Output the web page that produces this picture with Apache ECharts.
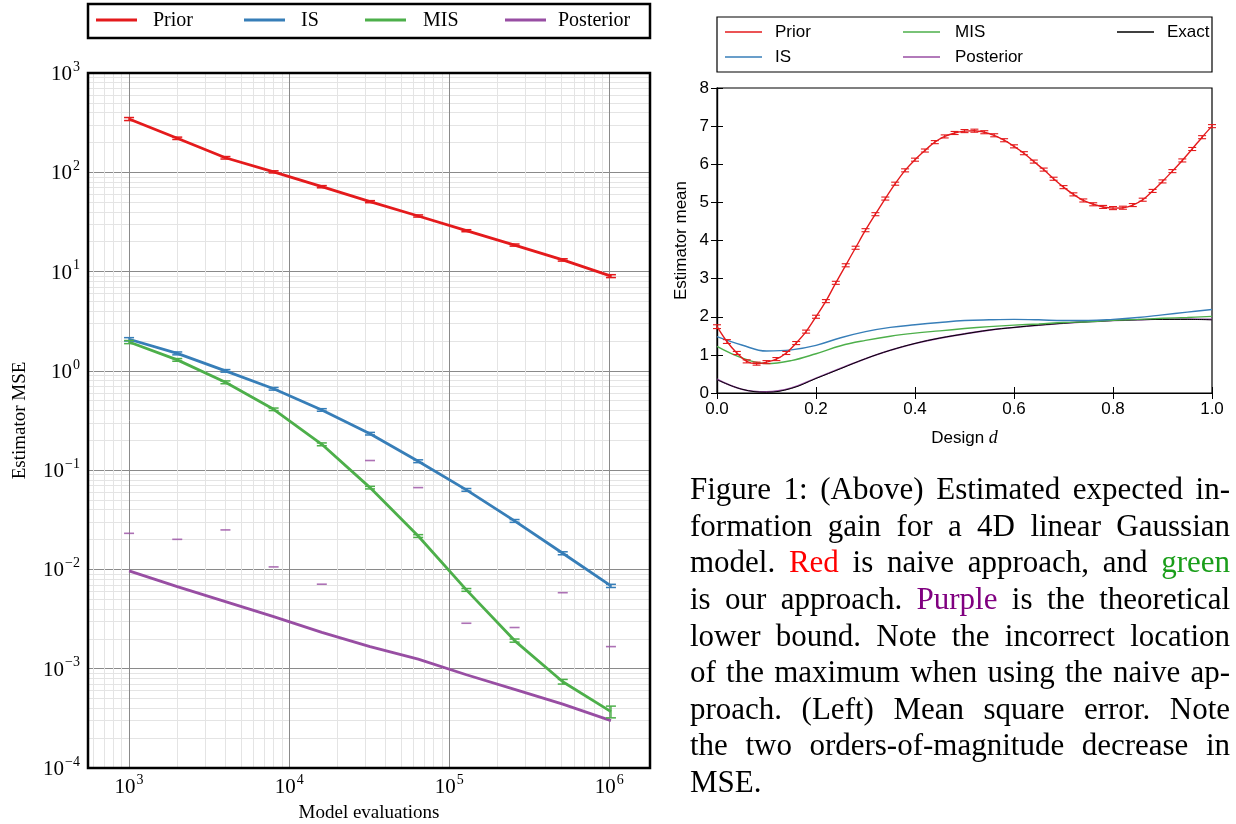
<!DOCTYPE html>
<html>
<head>
<meta charset="utf-8">
<script src="https://cdn.jsdelivr.net/npm/echarts@6/dist/echarts.min.js"></script>
<style>
html,body{margin:0;padding:0;background:#fff;}
#chart{width:1236px;height:824px;}
</style>
</head>
<body>
<div id="chart"></div>
<script>
// ---------------- DATA: left panel (MSE vs model evaluations) ----------------
const mseEvals = [1000, 2000, 4000, 8000, 16000, 32000, 64000, 128000, 256000, 512000, 1024000];
const msePrior = [344, 220, 140, 101, 71.6, 50.6, 36.3, 25.8, 18.5, 13.1, 9.0];
const msePriorErr = [12, 6, 4, 2.5, 1.8, 1.2, 0.9, 0.6, 0.45, 0.35, 0.3];
const mseIS = [2.08, 1.50, 1.00, 0.66, 0.404, 0.233, 0.123, 0.0633, 0.0308, 0.01455, 0.00683];
const mseISErr = [0.08, 0.05, 0.03, 0.02, 0.012, 0.007, 0.004, 0.002, 0.001, 0.0005, 0.00025];
const mseMIS = [1.95, 1.29, 0.767, 0.41, 0.182, 0.0667, 0.0217, 0.00622, 0.00192, 0.00074, 0.00037];
const mseMISErr = [0.07, 0.04, 0.025, 0.012, 0.006, 0.002, 0.0007, 0.0002, 0.00007, 0.00004, 0.00005];
const msePosterior = [0.00966, 0.00671, 0.00474, 0.00335, 0.00232, 0.00167, 0.00125, 0.00087, 0.00062, 0.00044, 0.0003];
const msePosteriorCaps = [0.0231, 0.0201, 0.025, 0.0106, 0.0071, 0.125, 0.0667, 0.00287, 0.0026, 0.00583, 0.00167];

// ---------------- DATA: right panel (estimator mean vs design d) ----------------
const designFine = [0.00,0.02,0.04,0.06,0.08,0.10,0.12,0.14,0.16,0.18,0.20,0.22,0.24,0.26,0.28,0.30,0.32,0.34,0.36,0.38,0.40,0.42,0.44,0.46,0.48,0.50,0.52,0.54,0.56,0.58,0.60,0.62,0.64,0.66,0.68,0.70,0.72,0.74,0.76,0.78,0.80,0.82,0.84,0.86,0.88,0.90,0.92,0.94,0.96,0.98,1.00];
const meanPrior = [1.74,1.35,1.05,0.83,0.77,0.81,0.89,1.05,1.31,1.61,2.00,2.41,2.89,3.35,3.81,4.27,4.69,5.10,5.49,5.84,6.12,6.36,6.58,6.73,6.82,6.87,6.88,6.84,6.76,6.63,6.47,6.29,6.07,5.86,5.62,5.40,5.21,5.05,4.95,4.88,4.85,4.86,4.93,5.07,5.30,5.55,5.82,6.10,6.40,6.71,7.00];
const meanPriorErr = [0.05,0.05,0.04,0.04,0.04,0.04,0.04,0.04,0.04,0.04,0.04,0.04,0.04,0.04,0.04,0.04,0.04,0.04,0.04,0.04,0.04,0.04,0.04,0.04,0.04,0.04,0.04,0.04,0.04,0.04,0.04,0.04,0.04,0.04,0.04,0.04,0.04,0.04,0.04,0.04,0.04,0.04,0.04,0.04,0.04,0.04,0.04,0.04,0.04,0.04,0.04];
const designCoarse = [0.00,0.05,0.10,0.15,0.20,0.25,0.30,0.35,0.40,0.45,0.50,0.55,0.60,0.65,0.70,0.75,0.80,0.85,0.90,0.95,1.00];
const meanIS = [1.48,1.26,1.10,1.13,1.25,1.45,1.61,1.72,1.79,1.85,1.90,1.92,1.93,1.92,1.90,1.90,1.93,1.98,2.05,2.12,2.19];
const meanMIS = [1.22,0.92,0.77,0.85,1.03,1.24,1.38,1.49,1.57,1.63,1.69,1.74,1.78,1.81,1.85,1.87,1.91,1.93,1.96,1.98,2.01];
const meanPosterior = [0.36,0.10,0.03,0.13,0.39,0.65,0.90,1.12,1.30,1.44,1.55,1.65,1.72,1.78,1.83,1.87,1.90,1.92,1.94,1.94,1.93];
const meanExact = [0.35,0.10,0.02,0.12,0.38,0.64,0.90,1.12,1.30,1.44,1.55,1.65,1.72,1.78,1.83,1.87,1.90,1.92,1.93,1.93,1.92];

// ---------------- TEXT ----------------
const leftLegendNames = ['Prior', 'IS', 'MIS', 'Posterior'];
const rightLegendNames = ['Prior', 'IS', 'MIS', 'Posterior', 'Exact'];
const captionLines = [
  'Figure 1: (Above) Estimated expected in-',
  'formation gain for a 4D linear Gaussian',
  'model. {r|Red} is naive approach, and {g|green}',
  'is our approach. {p|Purple} is the theoretical',
  'lower bound. Note the incorrect location',
  'of the maximum when using the naive ap-',
  'proach. (Left) Mean square error. Note',
  'the two orders-of-magnitude decrease in',
  'MSE.'
];

// ---------------- STYLE ----------------
const C = {prior:'#e41a1c', is:'#377eb8', mis:'#4daf4a', post:'#984ea3', exact:'#000000'};
const SERIF = '"Liberation Serif", "DejaVu Serif", serif';
const SANS = '"Liberation Sans", Arial, sans-serif';

const zip = (xs, ys) => xs.map((x, i) => [x, ys[i]]);
const errData = (xs, ys, es) => xs.map((x, i) => [x, ys[i] - es[i], ys[i] + es[i]]);

function errRender(color, capW, lw) {
  return function (params, api) {
    const x = api.value(0), lo = api.value(1), hi = api.value(2);
    const p1 = api.coord([x, lo]), p2 = api.coord([x, hi]);
    const st = {stroke: color, lineWidth: lw};
    return {type: 'group', children: [
      {type: 'line', shape: {x1: p1[0], y1: p1[1], x2: p2[0], y2: p2[1]}, style: st},
      {type: 'line', shape: {x1: p1[0] - capW / 2, y1: p1[1], x2: p1[0] + capW / 2, y2: p1[1]}, style: st},
      {type: 'line', shape: {x1: p2[0] - capW / 2, y1: p2[1], x2: p2[0] + capW / 2, y2: p2[1]}, style: st}
    ]};
  };
}

function pow10Label(v) {
  const l = Math.log10(v);
  const e = Math.round(l);
  if (Math.abs(l - e) > 1e-6) return '';
  return '{b|10}{e|' + (e < 0 ? '\u2212' + (-e) : e) + '}';
}
const powRich = {
  b: {fontFamily: SERIF, fontSize: 21, color: '#000', padding: [3, 0, 0, 0]},
  e: {fontFamily: SERIF, fontSize: 14, color: '#000', padding: [0, 0, 12, 1]}
};

// layout
const L = {left: 88, top: 73, width: 562, height: 695};
const R = {left: 717, top: 88, width: 495, height: 305};

// ---------------- graphics: legends, frame, caption ----------------
const graphics = [];
// left legend box
graphics.push({type: 'rect', shape: {x: 88, y: 4, width: 562, height: 34}, style: {fill: 'none', stroke: '#000', lineWidth: 2.5}, z: 100});
const leftLegendPos = [[96, 153], [244, 301], [365, 423], [505, 558]];
const leftColors = [C.prior, C.is, C.mis, C.post];
leftLegendNames.forEach((n, i) => {
  const [lx, tx] = leftLegendPos[i];
  graphics.push({type: 'line', shape: {x1: lx, y1: 20, x2: lx + 41, y2: 20}, style: {stroke: leftColors[i], lineWidth: 3}, z: 100});
  graphics.push({type: 'text', x: tx, y: 21, style: {text: n, fontFamily: SERIF, fontSize: 20, fill: '#000', verticalAlign: 'middle'}, z: 100});
});
// left plot frame
graphics.push({type: 'rect', shape: {x: L.left, y: L.top, width: L.width, height: L.height}, style: {fill: 'none', stroke: '#000', lineWidth: 2.5}, z: 100});

// right legend box
graphics.push({type: 'rect', shape: {x: 717, y: 17, width: 495, height: 55}, style: {fill: 'none', stroke: '#000', lineWidth: 1.2}, z: 100});
const rightLegendPos = [[725, 775, 32], [725, 775, 57], [903, 955, 32], [903, 955, 57], [1117, 1167, 32]];
const rightColors = [C.prior, C.is, C.mis, C.post, C.exact];
rightLegendNames.forEach((n, i) => {
  const [lx, tx, y] = rightLegendPos[i];
  graphics.push({type: 'line', shape: {x1: lx, y1: y, x2: lx + 37, y2: y}, style: {stroke: rightColors[i], lineWidth: 1.3}, z: 100});
  graphics.push({type: 'text', x: tx, y: y, style: {text: n, fontFamily: SANS, fontSize: 17, fill: '#000', verticalAlign: 'middle'}, z: 100});
});

// caption, justified
(function () {
  const capFont = 31;
  const x0 = 690, x1 = 1230, y0 = 491, lh = 36.6;
  const cv = document.createElement('canvas').getContext('2d');
  cv.font = capFont + 'px ' + SERIF;
  const colorMap = {r: '#ff0000', g: '#1a9e1a', p: '#800080'};
  captionLines.forEach((line, li) => {
    const words = line.split(' ').map(w => {
      const m = w.match(/^\{(\w)\|(.*)\}(.*)$/);
      if (m) return {t: m[2] + m[3], c: colorMap[m[1]]};
      return {t: w, c: '#000'};
    });
    const widths = words.map(w => cv.measureText(w.t).width);
    const total = widths.reduce((a, b) => a + b, 0);
    const last = li === captionLines.length - 1;
    const gap = (!last && words.length > 1) ? (x1 - x0 - total) / (words.length - 1) : cv.measureText(' ').width;
    let x = x0;
    const y = y0 + li * lh;
    words.forEach((w, wi) => {
      graphics.push({type: 'text', x: x, y: y, style: {text: w.t, fontFamily: SERIF, fontSize: capFont, fill: w.c, verticalAlign: 'middle'}, z: 100});
      x += widths[wi] + gap;
    });
  });
})();

// ---------------- chart ----------------
const chart = echarts.init(document.getElementById('chart'), null, {renderer: 'canvas'});
const tickInside = {show: true, inside: true, length: 6, lineStyle: {color: '#000', width: 1}};
const option = {
  animation: false,
  backgroundColor: '#fff',
  grid: [
    {left: L.left, top: L.top, width: L.width, height: L.height, show: false, containLabel: false, outerBoundsMode: 'none'},
    {left: R.left, top: R.top, width: R.width, height: R.height, show: true, borderColor: '#000', borderWidth: 1.2, backgroundColor: 'transparent', containLabel: false, outerBoundsMode: 'none'}
  ],
  xAxis: [
    {
      type: 'log', logBase: 10, gridIndex: 0, min: 554, max: 1796000,
      axisLine: {show: false}, axisTick: {show: false},
      splitLine: {show: true, lineStyle: {color: '#8a8a8a', width: 1}},
      minorTick: {show: false, splitNumber: 9},
      minorSplitLine: {show: true, lineStyle: {color: '#e4e4e4', width: 1}},
      axisLabel: {formatter: pow10Label, rich: powRich, margin: 5, showMinLabel: false, showMaxLabel: false},
      name: 'Model evaluations', nameLocation: 'middle', nameGap: 36,
      nameTextStyle: {fontFamily: SERIF, fontSize: 19, color: '#000'}
    },
    {
      type: 'value', gridIndex: 1, min: 0, max: 1, interval: 0.2,
      axisLine: {show: true, lineStyle: {color: '#000', width: 1.2}},
      axisTick: tickInside, splitLine: {show: false},
      axisLabel: {formatter: v => v.toFixed(1), fontFamily: SANS, fontSize: 17, color: '#000', margin: 8},
      name: '{n|Design }{i|d}', nameLocation: 'middle', nameGap: 36,
      nameTextStyle: {rich: {n: {fontFamily: SANS, fontSize: 17, color: '#000'}, i: {fontFamily: SERIF, fontStyle: 'italic', fontSize: 18, color: '#000'}}}
    },
    {
      type: 'value', gridIndex: 1, min: 0, max: 1, interval: 0.2, position: 'top',
      axisLine: {show: true, lineStyle: {color: '#000', width: 1.2}},
      axisTick: tickInside, splitLine: {show: false}, axisLabel: {show: false}
    }
  ],
  yAxis: [
    {
      type: 'log', logBase: 10, gridIndex: 0, min: 1e-4, max: 1e3,
      axisLine: {show: false}, axisTick: {show: false},
      splitLine: {show: true, lineStyle: {color: '#8a8a8a', width: 1}},
      minorTick: {show: false, splitNumber: 9},
      minorSplitLine: {show: true, lineStyle: {color: '#e4e4e4', width: 1}},
      axisLabel: {formatter: pow10Label, rich: powRich, margin: 8},
      name: 'Estimator MSE', nameLocation: 'middle', nameGap: 58,
      nameTextStyle: {fontFamily: SERIF, fontSize: 19, color: '#000'}
    },
    {
      type: 'value', gridIndex: 1, min: 0, max: 8, interval: 1,
      axisLine: {show: true, lineStyle: {color: '#000', width: 1.2}},
      axisTick: tickInside, splitLine: {show: false},
      axisLabel: {fontFamily: SANS, fontSize: 17, color: '#000', margin: 8},
      name: 'Estimator mean', nameLocation: 'middle', nameGap: 27,
      nameTextStyle: {fontFamily: SANS, fontSize: 17, color: '#000'}
    },
    {
      type: 'value', gridIndex: 1, min: 0, max: 8, interval: 1, position: 'right',
      axisLine: {show: true, lineStyle: {color: '#000', width: 1.2}},
      axisTick: tickInside, splitLine: {show: false}, axisLabel: {show: false}
    }
  ],
  graphic: graphics,
  series: [
    // left panel
    {name: 'Prior', type: 'line', xAxisIndex: 0, yAxisIndex: 0, data: zip(mseEvals, msePrior), symbol: 'none', lineStyle: {color: C.prior, width: 2.8}, itemStyle: {color: C.prior}, z: 5},
    {name: 'IS', type: 'line', xAxisIndex: 0, yAxisIndex: 0, data: zip(mseEvals, mseIS), symbol: 'none', lineStyle: {color: C.is, width: 2.8}, itemStyle: {color: C.is}, z: 5},
    {name: 'MIS', type: 'line', xAxisIndex: 0, yAxisIndex: 0, data: zip(mseEvals, mseMIS), symbol: 'none', lineStyle: {color: C.mis, width: 2.8}, itemStyle: {color: C.mis}, z: 5},
    {name: 'Posterior', type: 'line', xAxisIndex: 0, yAxisIndex: 0, data: zip(mseEvals, msePosterior), symbol: 'none', lineStyle: {color: C.post, width: 2.8}, itemStyle: {color: C.post}, z: 5},
    {name: 'Prior err', type: 'custom', xAxisIndex: 0, yAxisIndex: 0, data: errData(mseEvals, msePrior, msePriorErr), encode: {x: 0, y: [1, 2]}, renderItem: errRender(C.prior, 10, 1.5), z: 6},
    {name: 'IS err', type: 'custom', xAxisIndex: 0, yAxisIndex: 0, data: errData(mseEvals, mseIS, mseISErr), encode: {x: 0, y: [1, 2]}, renderItem: errRender(C.is, 10, 1.5), z: 6},
    {name: 'MIS err', type: 'custom', xAxisIndex: 0, yAxisIndex: 0, data: errData(mseEvals, mseMIS, mseMISErr), encode: {x: 0, y: [1, 2]}, renderItem: errRender(C.mis, 10, 1.5), z: 6},
    {name: 'Posterior caps', type: 'scatter', xAxisIndex: 0, yAxisIndex: 0, data: zip(mseEvals, msePosteriorCaps), symbol: 'rect', symbolSize: [10, 1.6], itemStyle: {color: C.post}, z: 6},
    // right panel
    {name: 'Posterior', type: 'line', xAxisIndex: 1, yAxisIndex: 1, data: zip(designCoarse, meanPosterior), smooth: 0.4, symbol: 'none', lineStyle: {color: C.post, width: 1.6}, itemStyle: {color: C.post}, z: 4},
    {name: 'Exact', type: 'line', xAxisIndex: 1, yAxisIndex: 1, data: zip(designCoarse, meanExact), smooth: 0.4, symbol: 'none', lineStyle: {color: C.exact, width: 1.0}, itemStyle: {color: C.exact}, z: 5},
    {name: 'MIS', type: 'line', xAxisIndex: 1, yAxisIndex: 1, data: zip(designCoarse, meanMIS), smooth: 0.4, symbol: 'none', lineStyle: {color: C.mis, width: 1.4}, itemStyle: {color: C.mis}, z: 5},
    {name: 'IS', type: 'line', xAxisIndex: 1, yAxisIndex: 1, data: zip(designCoarse, meanIS), smooth: 0.4, symbol: 'none', lineStyle: {color: C.is, width: 1.4}, itemStyle: {color: C.is}, z: 5},
    {name: 'Prior', type: 'line', xAxisIndex: 1, yAxisIndex: 1, data: zip(designFine, meanPrior), smooth: 0.3, symbol: 'none', lineStyle: {color: C.prior, width: 1.4}, itemStyle: {color: C.prior}, z: 6},
    {name: 'Prior mean err', type: 'custom', xAxisIndex: 1, yAxisIndex: 1, data: errData(designFine, meanPrior, meanPriorErr), encode: {x: 0, y: [1, 2]}, renderItem: errRender(C.prior, 8, 1.1), z: 7}
  ]
};
chart.setOption(option);
</script>
</body>
</html>
